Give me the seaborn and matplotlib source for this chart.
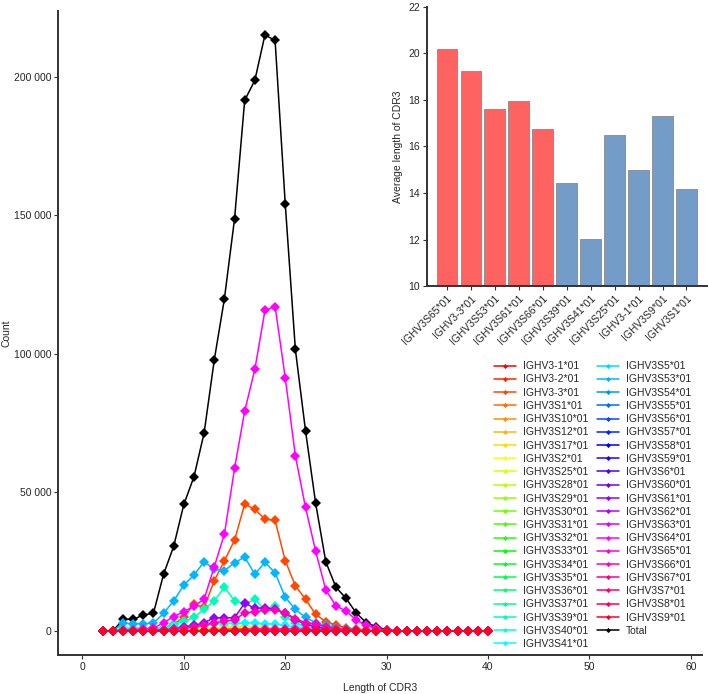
import colorsys
import matplotlib
matplotlib.use("Agg")
import matplotlib.pyplot as plt
from matplotlib.ticker import FuncFormatter
import seaborn as sns

# CDR3 lengths on the x axis
lengths = list(range(2, 41))

genes = ["IGHV3-1*01", "IGHV3-2*01", "IGHV3-3*01", "IGHV3S1*01", "IGHV3S10*01",
         "IGHV3S12*01", "IGHV3S17*01", "IGHV3S2*01", "IGHV3S25*01", "IGHV3S28*01",
         "IGHV3S29*01", "IGHV3S30*01", "IGHV3S31*01", "IGHV3S32*01", "IGHV3S33*01",
         "IGHV3S34*01", "IGHV3S35*01", "IGHV3S36*01", "IGHV3S37*01", "IGHV3S39*01",
         "IGHV3S40*01", "IGHV3S41*01", "IGHV3S5*01", "IGHV3S53*01", "IGHV3S54*01",
         "IGHV3S55*01", "IGHV3S56*01", "IGHV3S57*01", "IGHV3S58*01", "IGHV3S59*01",
         "IGHV3S6*01", "IGHV3S60*01", "IGHV3S61*01", "IGHV3S62*01", "IGHV3S63*01",
         "IGHV3S64*01", "IGHV3S65*01", "IGHV3S66*01", "IGHV3S67*01", "IGHV3S7*01",
         "IGHV3S8*01", "IGHV3S9*01"]

# counts per length (x = 2..40); genes not listed stay at 0
counts = {
    "IGHV3-3*01": [0, 0, 0, 200, 300, 500, 1000, 2500, 5000, 9700, 8500, 18200, 25300,
                   32800, 45800, 43900, 40400, 39900, 25400, 16300, 11500, 6000, 3400,
                   2200, 1200, 600, 300, 100, 0, 0, 0, 0, 0, 0, 0, 0, 0, 0, 0],
    "IGHV3S1*01": [0, 0, 0, 0, 0, 0, 100, 200, 300, 400, 500, 700, 800, 900, 1000, 900,
                   800, 700, 500, 300, 200, 100, 0, 0, 0, 0, 0, 0, 0, 0, 0, 0, 0, 0, 0,
                   0, 0, 0, 0],
    "IGHV3S25*01": [0, 0, 0, 0, 0, 100, 200, 300, 500, 700, 900, 1100, 1300, 1400, 1500,
                    1400, 1300, 1100, 800, 500, 300, 200, 100, 0, 0, 0, 0, 0, 0, 0, 0, 0,
                    0, 0, 0, 0, 0, 0, 0],
    "IGHV3S39*01": [0, 0, 500, 500, 500, 600, 1000, 2500, 3500, 4900, 7900, 10900, 15800,
                    10900, 9700, 11400, 7600, 9100, 5200, 3000, 1500, 800, 400, 200, 100,
                    0, 0, 0, 0, 0, 0, 0, 0, 0, 0, 0, 0, 0, 0],
    "IGHV3S41*01": [0, 0, 1000, 1000, 1000, 1000, 1200, 1500, 1800, 2000, 2300, 2500, 2700,
                    2800, 2900, 2900, 2700, 2500, 2000, 1500, 1000, 700, 400, 200, 0, 0, 0,
                    0, 0, 0, 0, 0, 0, 0, 0, 0, 0, 0, 0],
    "IGHV3S53*01": [0, 0, 2800, 2700, 2700, 2800, 6400, 10900, 16600, 20200, 25000, 22300,
                    21800, 24600, 26700, 20500, 24800, 21000, 12200, 7800, 4900, 3000, 2000,
                    1200, 700, 400, 200, 0, 0, 0, 0, 0, 0, 0, 0, 0, 0, 0, 0],
    "IGHV3S61*01": [0, 0, 0, 0, 0, 100, 300, 600, 1500, 2000, 3000, 4800, 4800, 4800, 10100,
                    8200, 8300, 7900, 6500, 4000, 2500, 1500, 800, 400, 200, 0, 0, 0, 0, 0,
                    0, 0, 0, 0, 0, 0, 0, 0, 0],
    "IGHV3S64*01": [0, 0, 400, 500, 700, 1000, 3000, 5200, 7000, 9000, 11500, 23200, 35000,
                    58700, 79400, 94400, 115700, 117100, 91400, 63200, 44600, 28800, 14800,
                    9100, 7200, 4000, 2000, 1000, 300, 0, 0, 0, 0, 0, 0, 0, 0, 0, 0],
    "IGHV3S65*01": [0, 0, 0, 0, 0, 0, 0, 0, 0, 0, 100, 200, 300, 400, 500, 600, 700, 800,
                    800, 700, 600, 500, 400, 300, 200, 100, 0, 0, 0, 0, 0, 0, 0, 0, 0, 0,
                    0, 0, 0],
    "IGHV3S66*01": [0, 0, 0, 0, 0, 200, 500, 800, 1000, 1500, 2000, 3000, 3500, 4000, 6600,
                    6900, 7600, 7600, 6500, 4500, 3000, 2500, 1500, 800, 400, 200, 0, 0, 0,
                    0, 0, 0, 0, 0, 0, 0, 0, 0, 0],
}
zeros = [0] * len(lengths)

total = [0, 0, 4200, 4200, 5800, 6400, 20500, 30600, 45700, 55700, 71500, 97800, 119900,
         148700, 191500, 198700, 215100, 213100, 154200, 101600, 72300, 46100, 25000,
         15800, 11800, 6500, 3000, 1500, 500, 0, 0, 0, 0, 0, 0, 0, 0, 0, 0]

# inset: average CDR3 length
bar_genes = ["IGHV3S65*01", "IGHV3-3*01", "IGHV3S53*01", "IGHV3S61*01", "IGHV3S66*01",
             "IGHV3S39*01", "IGHV3S41*01", "IGHV3S25*01", "IGHV3-1*01", "IGHV3S9*01",
             "IGHV3S1*01"]
bar_means = [20.17, 19.25, 17.61, 17.97, 16.75, 14.45, 12.03, 16.48, 14.99, 17.30, 14.16]
bar_group = ["high"] * 5 + ["low"] * 6

sns.set_style("white")
plt.rcParams["font.family"] = ["Liberation Sans", "DejaVu Sans"]
plt.rcParams["axes.edgecolor"] = "#333333"
plt.rcParams["axes.linewidth"] = 1.4

fig = plt.figure(figsize=(7.09, 6.94), dpi=100)
ax = fig.add_axes([0.082, 0.056, 0.908, 0.928])

colors = [colorsys.hsv_to_rgb(i / len(genes), 1, 1) for i in range(len(genes))]
for g, c in zip(genes, colors):
    sns.lineplot(x=lengths, y=counts.get(g, zeros), color=c, marker="D", markersize=5.2,
                 markeredgewidth=0, linewidth=1.1, label=g, ax=ax, zorder=3)
sns.lineplot(x=lengths, y=total, color="black", marker="D", markersize=5.2,
             markeredgewidth=0, linewidth=1.1, label="Total", ax=ax, zorder=2)

ax.set_xlim(-2.4, 61.1)
ax.set_ylim(-8700, 223700)
ax.set_xticks([0, 10, 20, 30, 40, 50, 60])
ax.set_yticks([0, 50000, 100000, 150000, 200000])
ax.yaxis.set_major_formatter(FuncFormatter(lambda v, p: f"{int(v):,}".replace(",", " ")))
ax.tick_params(axis="both", labelsize=7.5, length=3, width=0.8, color="#333333",
               left=True, bottom=True, pad=2)
ax.set_xlabel("Length of CDR3", fontsize=7.5, labelpad=8)
ax.set_ylabel("Count", fontsize=7.5, labelpad=1.5)
sns.despine(ax=ax)

ax.legend(loc="upper left", bbox_to_anchor=(0.69, 0.487), bbox_transform=fig.transFigure,
          ncol=2, frameon=False, fontsize=7.5, labelspacing=0.31, handlelength=2.1,
          handletextpad=0.6, columnspacing=0.9, borderpad=0, markerscale=0.5)

# inset bar chart
ins = fig.add_axes([0.602, 0.5875, 0.395, 0.403])
sns.barplot(x=bar_genes, y=bar_means, hue=bar_group,
            palette={"high": "#ff6361", "low": "#749cc9"}, saturation=1, width=0.85,
            edgecolor="#888888", linewidth=0.6, legend=False, ax=ins)
ins.set_ylim(10, 22)
ins.set_xlim(-0.83, 10.85)
ins.set_yticks([10, 12, 14, 16, 18, 20, 22])
ins.set_ylabel("Average length of CDR3", fontsize=7.5)
ins.tick_params(axis="both", labelsize=7.5, length=3, width=0.8, color="#333333",
                left=True, bottom=True, pad=2)
plt.setp(ins.get_xticklabels(), rotation=45, ha="right", rotation_mode="anchor")
sns.despine(ax=ins)

fig.savefig("out.png", dpi=100)
